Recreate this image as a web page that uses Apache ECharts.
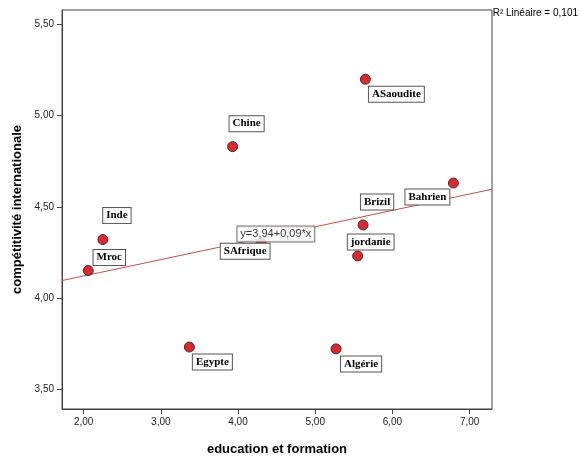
<!DOCTYPE html>
<html>
<head>
<meta charset="UTF-8" />
<script src="https://cdn.jsdelivr.net/npm/echarts@6/dist/echarts.min.js"></script>
<style>html,body{margin:0;background:#fff}#chart{width:580px;height:464px}</style>
</head>
<body>
<div id="chart"></div>
<script>
var pays = ["Mroc", "Inde", "Egypte", "Chine", "SAfrique", "ASaoudite", "Algérie", "Brizil", "jordanie", "Bahrien"];
var education = [2.06, 2.25, 3.37, 3.93, 4.30, 5.65, 5.27, 5.62, 5.55, 6.79];
var competitivite = [4.15, 4.32, 3.73, 4.83, 4.30, 5.20, 3.72, 4.40, 4.23, 4.63];
var intercept = 3.94, pente = 0.09;
var xMin = 1.72, xMax = 7.29;

// label centre offsets from point [dx, dy] in pixels
var offsets = [[21, -13], [14, -24], [23, 15], [14, -23], [-16, 8], [31, 15], [25, 15], [14, -23], [13, -14], [-26, 14]];

var myChart = echarts.init(document.getElementById("chart"));
var font = "'Liberation Serif', serif";

var points = pays.map(function (p, i) {
  return {
    value: [education[i], competitivite[i]],
    label: { offset: offsets[i] }
  };
});

myChart.setOption({
  animation: false,
  grid: { left: 62, right: 88, top: 10, bottom: 55 },
  xAxis: {
    type: "value", min: xMin, max: xMax,
    name: "education et formation", nameLocation: "middle", nameGap: 34,
    nameTextStyle: { fontWeight: "bold", fontSize: 13, color: "#000", fontFamily: "Arial" },
    axisLine: { lineStyle: { color: "#444" } },
    axisTick: { customValues: [2, 3, 4, 5, 6, 7], lineStyle: { color: "#444" } },
    axisLabel: { customValues: [2, 3, 4, 5, 6, 7], formatter: function (v) { return v.toFixed(2).replace(".", ","); }, color: "#222", fontSize: 10 },
    splitLine: { show: false }
  },
  yAxis: {
    type: "value", min: 3.39, max: 5.58,
    name: "compétitivité internationale", nameLocation: "middle", nameGap: 36,
    nameTextStyle: { fontWeight: "bold", fontSize: 13, color: "#000", fontFamily: "Arial" },
    axisLine: { show: true, lineStyle: { color: "#444" } },
    axisTick: { show: true, customValues: [3.5, 4, 4.5, 5, 5.5], lineStyle: { color: "#444" } },
    axisLabel: { customValues: [3.5, 4, 4.5, 5, 5.5], formatter: function (v) { return v.toFixed(2).replace(".", ","); }, color: "#222", fontSize: 10 },
    splitLine: { show: false }
  },
  graphic: [
    { type: "rect", shape: { x: 62, y: 10, width: 430, height: 399 }, style: { fill: "none", stroke: "#444" }, silent: true },
    { type: "text", right: 2, top: 8, style: { text: "R² Linéaire = 0,101", fontSize: 10, fill: "#000", fontFamily: "Arial" } }
  ],
  series: [
    {
      type: "line",
      data: [[xMin, intercept + pente * xMin], [xMax, intercept + pente * xMax]],
      symbol: "none",
      lineStyle: { color: "#c0504d", width: 1 },
      z: 2
    },
    {
      type: "scatter",
      data: points,
      symbolSize: 10,
      itemStyle: { color: "#e3262c", borderColor: "#333", borderWidth: 1, opacity: 1 },
      label: {
        show: true, position: "inside",
        formatter: function (p) { return pays[p.dataIndex]; },
        fontFamily: font, fontWeight: "bold", fontSize: 11, color: "#000",
        backgroundColor: "#fff", borderColor: "#555", borderWidth: 1, padding: [2, 3]
      },
      z: 3
    },
    {
      type: "scatter",
      data: [[4.49, 4.35]],
      symbolSize: 0,
      label: {
        show: true, position: "inside",
        formatter: "y=3,94+0,09*x",
        fontFamily: "Arial", fontSize: 11, color: "#000",
        backgroundColor: "#fff", borderColor: "#555", borderWidth: 1, padding: [2, 3]
      },
      z: 5
    }
  ]
});
</script>
</body>
</html>
